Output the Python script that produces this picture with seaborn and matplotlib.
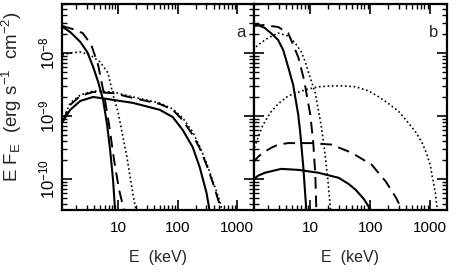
import numpy as np
import pandas as pd
import matplotlib
matplotlib.use("Agg")
import matplotlib.pyplot as plt
from matplotlib.ticker import LogLocator, NullFormatter, FuncFormatter, FixedLocator
import seaborn as sns

sns.set_theme(style="ticks")
plt.rcParams['font.family'] = ['Liberation Sans', 'DejaVu Sans']
plt.rcParams['mathtext.fontset'] = 'custom'
plt.rcParams['mathtext.rm'] = 'Liberation Sans'
plt.rcParams['mathtext.it'] = 'Liberation Sans:italic'

# ---------------- data (E in keV, E*F_E in erg s^-1 cm^-2) ----------------
# Panel a
a_solid_thermal_E = [1.17, 1.58, 2.33, 3.04, 3.83, 4.64, 5.62, 6.56, 7.36, 8.25, 8.91, 9.26]
a_solid_thermal_F = [2.6e-8, 2.15e-8, 1.5e-8, 1.04e-8, 6.0e-9, 3.47e-9, 1.8e-9, 7.2e-10, 2.9e-10, 9.6e-11, 3.2e-11, 2.2e-11]
a_dash_thermal_E = [1.17, 1.73, 2.56, 3.56, 4.64, 5.85, 7.08, 8.58, 10.4, 12.6, 13.1]
a_dash_thermal_F = [2.68e-8, 2.40e-8, 2.07e-8, 1.34e-8, 6.45e-9, 2.15e-9, 7.2e-10, 2.0e-10, 6.7e-11, 3.2e-11, 2.4e-11]
a_dot_thermal_E = [1.17, 1.58, 2.33, 3.41, 5.0, 6.81, 8.25, 10.0, 11.7, 14.0, 15.8, 18.5, 20.0, 20.7]
a_dot_thermal_F = [9.3e-9, 1.0e-8, 1.04e-8, 9.3e-9, 7.2e-9, 4.8e-9, 2.15e-9, 1.16e-9, 5.4e-10, 2.3e-10, 1.12e-10, 4.6e-11, 3.2e-11, 2.6e-11]
a_solid_comp_E = [1.17, 1.58, 2.33, 3.83, 8.25, 17.8, 50, 82.5, 121, 178, 233, 304, 341, 352]
a_solid_comp_F = [8.0e-10, 1.25e-9, 1.73e-9, 2.0e-9, 1.8e-9, 1.61e-9, 1.25e-9, 9.6e-10, 6.0e-10, 3.2e-10, 1.55e-10, 6.0e-11, 3.2e-11, 2.4e-11]
a_dash_comp_E = [1.17, 1.58, 2.33, 3.83, 8.25, 17.8, 50, 82.5, 121, 178, 233, 304, 383, 501, 541]
a_dash_comp_F = [8.0e-10, 1.50e-9, 2.08e-9, 2.4e-9, 2.3e-9, 1.93e-9, 1.55e-9, 1.25e-9, 8.6e-10, 5.0e-10, 3.1e-10, 1.67e-10, 9.0e-11, 4.0e-11, 2.7e-11]
a_dot_comp_E = [1.17, 1.58, 2.33, 3.83, 8.25, 17.8, 50, 82.5, 121, 178, 233, 304, 383, 501, 578]
a_dot_comp_F = [8.3e-10, 1.6e-9, 2.15e-9, 2.49e-9, 2.4e-9, 2.0e-9, 1.6e-9, 1.29e-9, 9.3e-10, 5.6e-10, 3.3e-10, 1.8e-10, 9.6e-11, 4.6e-11, 2.7e-11]

# Panel b
b_solid_thermal_E = [1.10, 1.34, 1.75, 2.39, 2.90, 3.52, 4.27, 5.18, 5.60, 6.29, 6.79, 7.63, 8.57, 8.91]
b_solid_thermal_F = [2.78e-8, 2.78e-8, 2.49e-8, 1.93e-8, 1.61e-8, 1.12e-8, 6.0e-9, 3.1e-9, 2.0e-9, 1.04e-9, 5.4e-10, 1.55e-10, 3.2e-11, 2.2e-11]
b_dash_thermal_E = [1.10, 1.62, 2.90, 4.27, 5.18, 6.29, 7.63, 8.24, 9.26, 10.0, 11.2, 12.1, 12.6, 13.1]
b_dash_thermal_F = [2.68e-8, 2.78e-8, 2.59e-8, 2.07e-8, 1.34e-8, 8.6e-9, 4.16e-9, 2.9e-9, 1.55e-9, 1.04e-9, 3.7e-10, 1.16e-10, 3.2e-11, 2.2e-11]
b_dot_thermal_E = [1.10, 1.34, 1.97, 2.90, 4.27, 5.60, 7.06, 8.24, 10.0, 12.1, 13.6, 15.3, 17.0, 18.6, 20.0, 21.7, 22.5]
b_dot_thermal_F = [1.12e-8, 1.34e-8, 1.73e-8, 2.07e-8, 1.86e-8, 1.44e-8, 1.04e-8, 7.2e-9, 4.0e-9, 2.3e-9, 1.25e-9, 6.7e-10, 3.2e-10, 1.55e-10, 8.0e-11, 3.2e-11, 2.2e-11]
b_dot_comp_E = [1.10, 1.34, 1.62, 2.21, 2.90, 4.27, 8.24, 13.6, 22.5, 35.9, 57.0, 94.4, 139, 205, 301, 444, 582, 734, 858, 1000, 1081, 1213, 1313, 1363]
b_dot_comp_F = [2.7e-10, 4.5e-10, 7.2e-10, 1.16e-9, 1.55e-9, 2.08e-9, 2.6e-9, 2.9e-9, 3.0e-9, 3.0e-9, 2.9e-9, 2.49e-9, 2.0e-9, 1.55e-9, 1.16e-9, 7.5e-10, 5.4e-10, 3.7e-10, 2.6e-10, 1.67e-10, 1.08e-10, 6.0e-11, 3.2e-11, 2.2e-11]
b_dash_comp_E = [1.10, 1.34, 1.62, 2.21, 2.90, 4.27, 10.4, 22.5, 48.9, 106, 182, 269, 338, 365]
b_dash_comp_F = [1.8e-10, 2.23e-10, 2.6e-10, 3.1e-10, 3.5e-10, 3.7e-10, 3.7e-10, 3.5e-10, 2.6e-10, 1.67e-10, 9.0e-11, 5.0e-11, 3.2e-11, 2.4e-11]
b_solid_comp_E = [1.10, 1.34, 1.75, 3.26, 6.29, 13.6, 29.6, 43.5, 57.0, 77.8, 102, 110]
b_solid_comp_F = [9.6e-11, 1.12e-10, 1.25e-10, 1.44e-10, 1.39e-10, 1.25e-10, 1.04e-10, 8.3e-11, 6.7e-11, 4.8e-11, 3.2e-11, 2.7e-11]

x_limits = (1.15, 1900)
y_limits = (3.2e-11, 6.0e-8)
x_major_ticks = [10, 100, 1000]
y_major_ticks = [1e-10, 1e-9, 1e-8]
x_label = "E  (keV)"
y_label = r"E F$_\mathrm{E}$  (erg s$^{-1}$  cm$^{-2}$)"
panel_labels = ["a", "b"]

panels = [
    [(a_solid_thermal_E, a_solid_thermal_F, "solid"),
     (a_dash_thermal_E, a_dash_thermal_F, "dashed"),
     (a_dot_thermal_E, a_dot_thermal_F, "dotted"),
     (a_solid_comp_E, a_solid_comp_F, "solid"),
     (a_dash_comp_E, a_dash_comp_F, "dashed"),
     (a_dot_comp_E, a_dot_comp_F, "dotted")],
    [(b_solid_thermal_E, b_solid_thermal_F, "solid"),
     (b_dash_thermal_E, b_dash_thermal_F, "dashed"),
     (b_dot_thermal_E, b_dot_thermal_F, "dotted"),
     (b_dot_comp_E, b_dot_comp_F, "dotted"),
     (b_dash_comp_E, b_dash_comp_F, "dashed"),
     (b_solid_comp_E, b_solid_comp_F, "solid")],
]

styles = {"solid": (None, 1.5), "dashed": ((6, 3.5), 1.4), "dotted": ((1, 1.6), 1.2)}


def plain_fmt(v, pos):
    return "%d" % round(v)


def sci_fmt(v, pos):
    return r"$\mathregular{10^{%d}}$" % round(np.log10(v))


W, H = 460, 278
fig = plt.figure(figsize=(W / 100, H / 100), dpi=100)
boxes = [(62, 4, 254, 210), (254, 4, 447, 210)]

for i, (curves, box) in enumerate(zip(panels, boxes)):
    x0, y0, x1, y1 = box
    ax = fig.add_axes([x0 / W, 1 - y1 / H, (x1 - x0) / W, (y1 - y0) / H])
    for E, F, st in curves:
        df = pd.DataFrame({"E": E, "F": F})
        dash, lw = styles[st]
        sns.lineplot(data=df, x="E", y="F", ax=ax, color="black",
                     estimator=None, sort=False, lw=lw)
        l = ax.lines[-1]
        if dash is not None:
            l.set_dashes(dash)
    ax.set_xscale("log")
    ax.set_yscale("log")
    ax.set_xlim(*x_limits)
    ax.set_ylim(*y_limits)
    ax.xaxis.set_major_locator(FixedLocator(x_major_ticks))
    ax.xaxis.set_minor_locator(LogLocator(base=10, subs=np.arange(2, 10), numticks=20))
    ax.yaxis.set_major_locator(FixedLocator(y_major_ticks))
    ax.yaxis.set_minor_locator(LogLocator(base=10, subs=np.arange(2, 10), numticks=20))
    ax.xaxis.set_major_formatter(FuncFormatter(plain_fmt))
    ax.yaxis.set_major_formatter(FuncFormatter(sci_fmt))
    ax.xaxis.set_minor_formatter(NullFormatter())
    ax.yaxis.set_minor_formatter(NullFormatter())
    ax.tick_params(which="both", direction="in", top=True, right=True, colors="black")
    ax.tick_params(axis="x", labelsize=11, pad=8)
    ax.tick_params(axis="y", labelsize=12)
    ax.tick_params(which="major", length=7, width=1.2)
    ax.tick_params(which="minor", length=3.5, width=1.0)
    for sp in ax.spines.values():
        sp.set_linewidth(1.6)
        sp.set_color("black")
    ax.set_xlabel(x_label, fontsize=11.5, labelpad=11)
    if i == 0:
        ax.tick_params(axis="y", labelrotation=90, pad=3)
        for t in ax.get_yticklabels():
            t.set_va("center")
        ax.set_ylabel(y_label, fontsize=13.5)
        ax.yaxis.set_label_coords(-0.2, 0.55)
    else:
        ax.set_ylabel("")
        ax.tick_params(axis="y", labelleft=False)
    ax.text(0.93, 0.86, panel_labels[i], transform=ax.transAxes, fontsize=12,
            ha="center", va="center")
    ax.grid(False)

fig.savefig("out.png", dpi=100, facecolor="white")
